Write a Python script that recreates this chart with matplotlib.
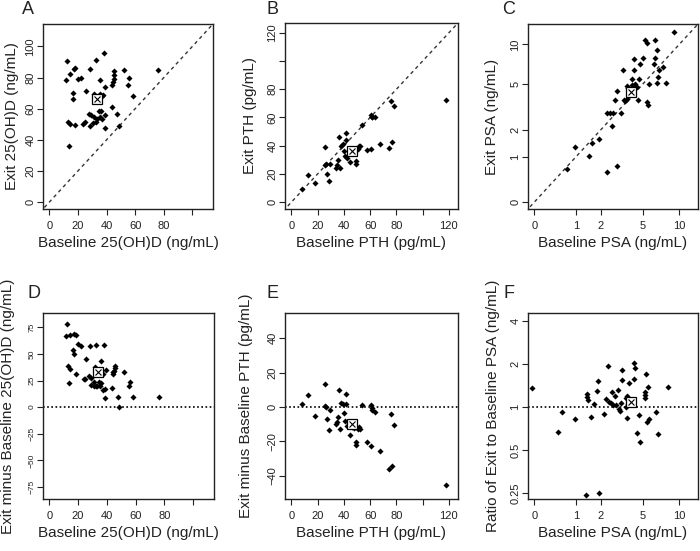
import numpy as np
import matplotlib.pyplot as plt

plt.rcParams['font.family'] = ['Liberation Sans', 'DejaVu Sans']

# 25(OH)D (ng/mL): baseline and exit
vitd_base = [12.2, 11.7, 14.5, 17.0, 18.2, 16.3, 16.9, 13.0, 14.5, 13.8, 18.2, 19.8, 22.3,
             28.1, 32.6, 37.9, 25.8, 23.9, 25.1, 27.4, 28.9, 28.6, 30.9, 30.7, 32.3, 33.3,
             31.4, 35.6, 35.6, 36.8, 37.5, 34.7, 36.1, 35.1, 37.0, 38.6, 38.6, 39.1, 43.8,
             44.1, 44.5, 45.0, 45.4, 45.4, 47.6, 48.5, 52.0, 56.0, 55.3, 58.2, 75.9]
vitd_exit = [90.5, 78.7, 82.5, 85.8, 86.4, 70.1, 66.4, 51.3, 50.0, 36.2, 49.6, 79.0, 79.6,
             85.8, 91.2, 95.9, 71.1, 50.0, 51.3, 56.7, 56.0, 49.2, 54.9, 51.0, 51.7, 53.2,
             69.2, 78.7, 69.6, 67.9, 69.0, 58.6, 58.6, 54.5, 53.2, 56.0, 47.4, 73.7, 61.4,
             75.5, 77.2, 79.3, 81.7, 84.0, 56.9, 49.0, 85.0, 79.6, 75.2, 67.9, 85.0]
vitd_mean = [33.5, 66.5]

# PTH (pg/mL): baseline and exit
pth_base = [7.8, 12.5, 18.3, 25.3, 25.6, 26.6, 27.2, 28.5, 29.3, 33.8, 34.9, 35.5, 36.4,
            37.4, 37.9, 39.2, 39.9, 40.5, 41.9, 41.9, 42.5, 44.5, 46.5, 47.5, 48.9, 49.6,
            50.6, 51.4, 52.1, 53.9, 57.3, 60.3, 61.1, 61.8, 63.4, 60.8, 67.2, 74.3, 75.6,
            76.9, 78.1, 117.6]
pth_exit = [9.6, 19.5, 13.3, 38.9, 26.2, 26.8, 20.2, 15.3, 27.3, 24.0, 26.4, 29.5, 46.2,
            24.4, 40.1, 41.0, 36.4, 32.5, 49.2, 43.8, 31.5, 28.4, 35.0, 35.3, 27.0, 29.1,
            37.8, 40.0, 39.5, 55.0, 36.7, 61.5, 60.6, 60.2, 60.3, 37.9, 41.4, 38.3, 71.8,
            42.8, 67.8, 72.1]
pth_mean = [46.3, 36.5]

# PSA (ng/mL): baseline and exit
psa_base = [9.1, 5.23, 5.47, 6.35, 6.64, 5.06, 6.35, 4.2, 4.74, 6.23, 7.43, 3.36, 4.2, 6.9,
            6.77, 4.0, 4.67, 5.66, 6.56, 7.81, 3.6, 3.7, 4.0, 4.1, 4.3, 4.45, 2.91, 2.8, 3.4,
            3.5, 3.6, 4.58, 5.45, 5.6, 2.35, 2.5, 2.66, 3.2, 2.6, 1.94, 1.59, 0.97, 1.49,
            0.73, 2.95, 2.35]
psa_exit = [12.3, 10.8, 10.2, 10.8, 9.1, 8.0, 7.9, 7.8, 7.2, 7.2, 6.8, 6.4, 6.5, 6.4,
            5.66, 5.46, 5.46, 4.99, 5.08, 5.08, 4.85, 4.7, 4.9, 4.75, 5.0, 4.8, 4.43, 3.71,
            3.7, 3.65, 3.8, 3.71, 3.6, 3.36, 2.9, 2.85, 2.9, 2.9, 2.17, 1.63, 1.46, 1.31,
            1.01, 0.66, 0.72, 0.58]
psa_mean = [3.95, 4.35]

# PSA ratio panel (exit / baseline)
ratio_base = [-0.04, 0.48, 0.58, 0.97, 1.36, 1.94, 1.55, 2.17, 1.70, 1.40, 1.40, 1.42, 1.81,
              1.89, 2.37, 2.30, 2.42, 2.55, 2.66, 2.60, 2.80, 2.86, 3.0, 3.08, 3.12, 3.2,
              3.24, 3.29, 3.55, 3.55, 3.65, 3.6, 3.7, 3.81, 4.2, 4.2, 4.3, 4.67, 4.43, 4.74,
              5.33, 5.26, 5.26, 5.26, 5.58, 5.4, 5.7, 6.47, 6.77, 8.15]
ratio_val = [1.36, 0.67, 0.92, 0.83, 0.24, 0.25, 0.85, 0.90, 1.05, 1.23, 1.18, 1.12, 1.30,
             1.53, 1.93, 1.14, 1.09, 1.07, 1.04, 1.27, 1.19, 1.04, 1.32, 0.97, 0.94, 1.07,
             1.81, 1.56, 1.0, 1.16, 1.20, 0.84, 1.05, 1.47, 1.57, 2.04, 1.88, 0.88, 0.66,
             0.57, 1.71, 1.27, 1.21, 1.15, 1.38, 0.79, 0.83, 0.92, 0.65, 1.38]
ratio_mean = [3.92, 1.08]

vitd_diff = np.array(vitd_exit) - np.array(vitd_base)
pth_diff = np.array(pth_exit) - np.array(pth_base)
vitd_mean_diff = [vitd_mean[0], vitd_mean[1] - vitd_mean[0]]
pth_mean_diff = [pth_mean[0], pth_mean[1] - pth_mean[0]]

W, H = 700, 551
fig = plt.figure(figsize=(7, 5.51), dpi=100)
txt = '#222222'


def make_ax(l, r, t, b):
    return fig.add_axes([l / W, 1 - b / H, (r - l) / W, (b - t) / H])


def style(ax, letter, xlabel, ylabel, ylab_x, letter_xy, ysize=8):
    for s in ax.spines.values():
        s.set_linewidth(1.0)
        s.set_color('#222222')
    ax.tick_params(axis='both', direction='out', length=4, width=0.8, labelsize=8,
                   colors='#222222')
    ax.tick_params(axis='x', pad=4.5)
    ax.tick_params(axis='y', labelrotation=90, pad=1.5, labelsize=ysize)
    for lab in ax.get_yticklabels():
        lab.set_va('center')
    ax.set_xlabel(xlabel, fontsize=11, va='center', color=txt)
    ax.set_ylabel(ylabel, fontsize=11, va='center', color=txt)
    bb = ax.get_position()
    ax.xaxis.set_label_coords(0.5, -34 / (bb.height * H))
    ax.yaxis.set_label_coords((ylab_x - bb.x0 * W) / (bb.width * W), 0.5)
    fig.text(letter_xy[0] / W, 1 - letter_xy[1] / H, letter, fontsize=13,
             ha='center', va='center', color=txt)


def points(ax, x, y, m):
    ax.plot(x, y, 'D', ms=3.1, color='black', mew=0, zorder=3)
    ax.plot(m[0], m[1], 's', ms=6.5, mfc='white', mec='black', mew=0.9, zorder=4)
    ax.plot(m[0], m[1], 'x', ms=4.5, color='black', mew=0.8, zorder=5)


dash = dict(color='#333333', lw=1.0, ls=(0, (2.5, 2.5)), zorder=1)
dot = dict(color='black', lw=1.2, ls=(0, (1, 1.5)), zorder=1)

# A
ax = make_ax(43, 213, 24, 209)
ax.plot([-10, 130], [-10, 130], **dash)
points(ax, vitd_base, vitd_exit, vitd_mean)
ax.set_xlim(-4.4, 114.4)
ax.set_ylim(-4.4, 114.4)
ax.set_xticks([0, 20, 40, 60, 80, 100], ['0', '20', '40', '60', '80', ''])
ax.set_yticks([0, 20, 40, 60, 80, 100])
style(ax, 'A', 'Baseline 25(OH)D (ng/mL)', 'Exit 25(OH)D (ng/mL)', 12, (28, 10))

# B
ax = make_ax(285, 458, 23, 209)
ax.plot([-10, 140], [-10, 140], **dash)
points(ax, pth_base, pth_exit, pth_mean)
ax.set_xlim(-4.9, 127)
ax.set_ylim(-4.9, 127)
ax.set_xticks([0, 20, 40, 60, 80, 100, 120], ['0', '20', '40', '60', '80', '', '120'])
ax.set_yticks([0, 20, 40, 60, 80, 100, 120], ['0', '20', '40', '60', '80', '', '120'])
style(ax, 'B', 'Baseline PTH (pg/mL)', 'Exit PTH (pg/mL)', 250, (273, 9))

# C
ax = make_ax(528, 698, 24, 209)
ax.set_xscale('function', functions=(np.log1p, np.expm1))
ax.set_yscale('function', functions=(np.log1p, np.expm1))
ax.plot([-0.5, 20], [-0.5, 20], **dash)
points(ax, psa_base, psa_exit, psa_mean)
ax.set_xlim(-0.099, 14.0)
ax.set_ylim(-0.099, 14.0)
psa_ticks = [0, 1, 2, 5, 10]
ax.set_xticks(psa_ticks, [str(v) for v in psa_ticks])
ax.set_yticks(psa_ticks, [str(v) for v in psa_ticks])
ax.minorticks_off()
style(ax, 'C', 'Baseline PSA (ng/mL)', 'Exit PSA (ng/mL)', 492, (509, 9))

# D
ax = make_ax(43, 214, 313, 499)
ax.axhline(0, **dot)
points(ax, vitd_base, vitd_diff, vitd_mean_diff)
ax.set_xlim(-4.4, 114.4)
ax.set_ylim(-86.3, 88.4)
ax.set_xticks([0, 20, 40, 60, 80, 100], ['0', '20', '40', '60', '80', ''])
ax.set_yticks([-75, -50, -25, 0, 25, 50, 75])
style(ax, 'D', 'Baseline 25(OH)D (ng/mL)', 'Exit minus Baseline 25(OH)D (ng/mL)', 8,
      (34, 294), ysize=6)

# E
ax = make_ax(285, 458, 313, 499)
ax.axhline(0, **dot)
points(ax, pth_base, pth_diff, pth_mean_diff)
ax.set_xlim(-4.9, 127)
ax.set_ylim(-53.5, 54.7)
ax.set_xticks([0, 20, 40, 60, 80, 100, 120], ['0', '20', '40', '60', '80', '', '120'])
ax.set_yticks([-40, -20, 0, 20, 40])
style(ax, 'E', 'Baseline PTH (pg/mL)', 'Exit minus Baseline PTH (pg/mL)', 246, (273, 294))

# F
ax = make_ax(528, 698, 313, 499)
ax.set_xscale('function', functions=(np.log1p, np.expm1))
ax.set_yscale('log', base=2)
ax.axhline(1, **dot)
points(ax, ratio_base, ratio_val, ratio_mean)
ax.set_xlim(-0.099, 14.0)
ax.set_ylim(0.226, 4.58)
ax.set_xticks(psa_ticks, [str(v) for v in psa_ticks])
ratio_ticks = [0.25, 0.5, 1, 2, 4]
ax.set_yticks(ratio_ticks, ['0.25', '0.5', '1', '2', '4'])
ax.minorticks_off()
style(ax, 'F', 'Baseline PSA (ng/mL)', 'Ratio of Exit to Baseline PSA (ng/mL)', 493,
      (509, 294))

fig.savefig('out.png', dpi=100)
